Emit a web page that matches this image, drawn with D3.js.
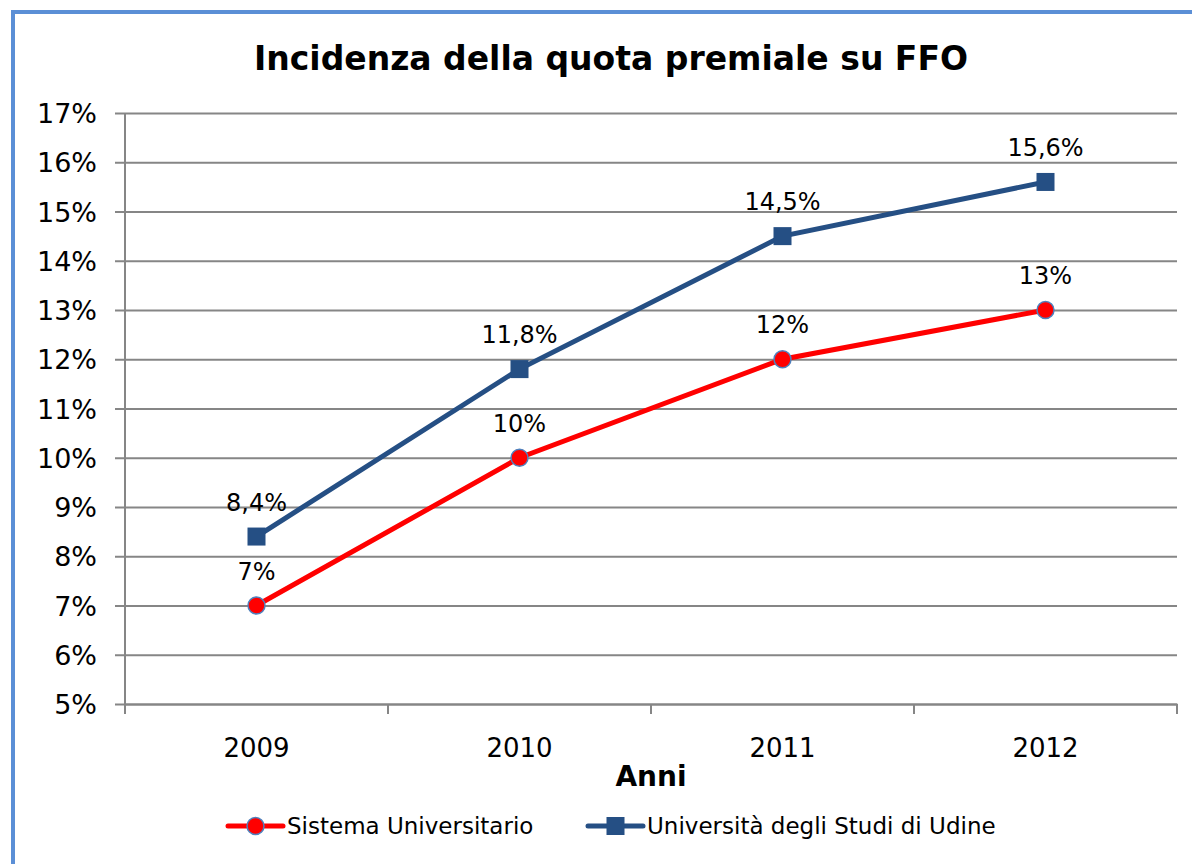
<!DOCTYPE html>
<html>
<head>
<meta charset="utf-8">
<script src="https://cdn.jsdelivr.net/npm/d3@7"></script>
<style>
  body { margin: 0; background: #fff; }
  svg { display: block; font-family: "DejaVu Sans", Verdana, sans-serif; }
</style>
</head>
<body>
<svg id="chart" width="1192" height="864"></svg>
<script>
// data
const years = ["2009", "2010", "2011", "2012"];
const sistema = [7, 10, 12, 13];
const udine = [8.4, 11.8, 14.5, 15.6];
const yTicks = [5, 6, 7, 8, 9, 10, 11, 12, 13, 14, 15, 16, 17];
const seriesNames = ["Sistema Universitario", "Università degli Studi di Udine"];

const font = "DejaVu Sans, Verdana, sans-serif";
const svg = d3.select("#chart");

// outer frame (only top/left visible)
svg.append("rect")
  .attr("x", 13).attr("y", 12)
  .attr("width", 1200).attr("height", 900)
  .attr("fill", "none")
  .attr("stroke", "#5b8fd6")
  .attr("stroke-width", 4);

const margin = { top: 113, right: 15, bottom: 160, left: 125 };
const width = 1192 - margin.left - margin.right,
  height = 864 - margin.top - margin.bottom;

const g = svg.append("g").attr("transform", `translate(${margin.left},${margin.top})`);

const x = d3.scaleBand().domain(years).range([0, width]);
const y = d3.scaleLinear().domain([5, 17]).range([height, 0]);
const fmt = (v) => String(v).replace(".", ",") + "%";

// gridlines + y axis
g.append("g")
  .call(d3.axisLeft(y).tickValues(yTicks).tickSize(-width).tickFormat((d) => d + "%").tickPadding(28))
  .attr("font-family", font)
  .call((a) => a.select(".domain").remove())
  .call((a) => a.selectAll(".tick line").attr("stroke", "#868686").attr("stroke-width", 2).attr("x1", -10))
  .call((a) => a.selectAll(".tick text").attr("font-size", 27).attr("fill", "#000").attr("dy", "0.36em"));

g.append("line").attr("x1", 0).attr("x2", 0).attr("y1", 0).attr("y2", height)
  .attr("stroke", "#868686").attr("stroke-width", 2);

// x axis
const xAxisG = g.append("g").attr("transform", `translate(0,${height})`)
  .call(d3.axisBottom(x).tickSize(0).tickPadding(35))
  .attr("font-family", font)
  .call((a) => a.select(".domain").attr("stroke", "#868686").attr("stroke-width", 2))
  .call((a) => a.selectAll(".tick text").attr("font-size", 26).attr("fill", "#000"));

// category separators
xAxisG.selectAll(".sep").data(d3.range(years.length + 1)).join("line")
  .attr("x1", (i) => i * x.bandwidth()).attr("x2", (i) => i * x.bandwidth())
  .attr("y1", 0).attr("y2", 10)
  .attr("stroke", "#868686").attr("stroke-width", 2);

const cx = (i) => x(years[i]) + x.bandwidth() / 2;

const line = d3.line().x((d, i) => cx(i)).y((d) => y(d));

// Udine series (blue squares)
g.append("path").datum(udine).attr("d", line)
  .attr("fill", "none").attr("stroke", "#254f84").attr("stroke-width", 5);
g.selectAll(".sq").data(udine).join("rect")
  .attr("x", (d, i) => cx(i) - 9).attr("y", (d) => y(d) - 9)
  .attr("width", 18).attr("height", 18)
  .attr("fill", "#254f84");
g.selectAll(".lblU").data(udine).join("text")
  .attr("x", (d, i) => cx(i)).attr("y", (d) => y(d) - 26)
  .attr("text-anchor", "middle").attr("font-size", 24).text(fmt);

// Sistema series (red circles)
g.append("path").datum(sistema).attr("d", line)
  .attr("fill", "none").attr("stroke", "#ff0000").attr("stroke-width", 5);
g.selectAll(".ci").data(sistema).join("circle")
  .attr("cx", (d, i) => cx(i)).attr("cy", (d) => y(d)).attr("r", 8.5)
  .attr("fill", "#ff0000").attr("stroke", "#4f81bd").attr("stroke-width", 1.5);
g.selectAll(".lblS").data(sistema).join("text")
  .attr("x", (d, i) => cx(i)).attr("y", (d) => y(d) - 26)
  .attr("text-anchor", "middle").attr("font-size", 24).text(fmt);

// title
svg.append("text").attr("x", 611).attr("y", 70).attr("text-anchor", "middle")
  .attr("font-size", 33).attr("font-weight", "bold").text("Incidenza della quota premiale su FFO");

// x axis title
svg.append("text").attr("x", margin.left + width / 2).attr("y", 786).attr("text-anchor", "middle")
  .attr("font-size", 28).attr("font-weight", "bold").text("Anni");

// legend
const legend = svg.append("g").attr("transform", "translate(0,826)");
const legendItems = [
  { name: seriesNames[0], x: 228, color: "#ff0000", shape: "circle" },
  { name: seriesNames[1], x: 588, color: "#254f84", shape: "square" }
];
legendItems.forEach((it) => {
  const lg = legend.append("g").attr("transform", `translate(${it.x},0)`);
  lg.append("line").attr("x1", 0).attr("x2", 55).attr("stroke", it.color)
    .attr("stroke-width", 5).attr("stroke-linecap", "round");
  if (it.shape === "circle") {
    lg.append("circle").attr("cx", 27.5).attr("r", 8.5).attr("fill", it.color)
      .attr("stroke", "#4f81bd").attr("stroke-width", 1.5);
  } else {
    lg.append("rect").attr("x", 18.5).attr("y", -9).attr("width", 18).attr("height", 18).attr("fill", it.color);
  }
  lg.append("text").attr("x", 59).attr("dy", "0.36em").attr("font-size", 23).text(it.name);
});
</script>
</body>
</html>
